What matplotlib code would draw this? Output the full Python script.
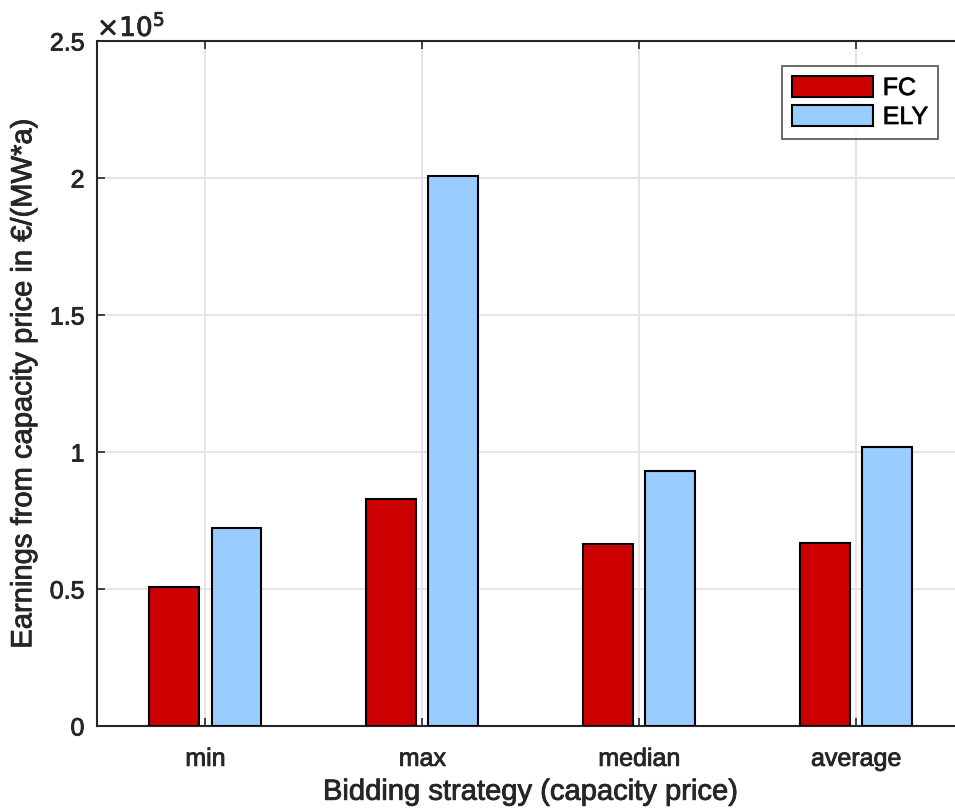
import matplotlib
matplotlib.use("Agg")
import matplotlib.pyplot as plt
import matplotlib.patheffects as pe
import numpy as np

categories = ["min", "max", "median", "average"]
fc_values = [0.507e5, 0.828e5, 0.664e5, 0.668e5]
ely_values = [0.723e5, 2.007e5, 0.931e5, 1.018e5]
y_ticks = [0, 0.5e5, 1e5, 1.5e5, 2e5, 2.5e5]
y_tick_labels = ["0", "0.5", "1", "1.5", "2", "2.5"]

plt.rcParams['font.family'] = ['Liberation Sans', 'DejaVu Sans']
TXT = '#262626'
heavy = [pe.withStroke(linewidth=0.6, foreground=TXT)]

W, H = 955, 811
fig = plt.figure(figsize=(W / 100, H / 100), dpi=100)
left, right, top, bottom = 97, 964.5, 41, 726
ax = fig.add_axes([left / W, 1 - bottom / H, (right - left) / W, (bottom - top) / H])

x = np.arange(1, len(categories) + 1)
bw = 0.23
off = 0.143
ax.bar(x - off, fc_values, bw, color='#cc0000', edgecolor='black', linewidth=1.5, label='FC', zorder=3)
ax.bar(x + off, ely_values, bw, color='#99ccff', edgecolor='black', linewidth=1.5, label='ELY', zorder=3)

ax.set_xlim(0.5, 4.5)
ax.set_ylim(0, 2.5e5)
ax.set_xticks(x)
ax.set_xticklabels(categories, fontsize=18, color=TXT)
ax.set_yticks(y_ticks)
ax.set_yticklabels(y_tick_labels, fontsize=18, color=TXT)
ax.tick_params(direction='in', length=6, width=1.2, color=TXT, top=True, right=True)
ax.tick_params(axis='x', pad=15)
ax.tick_params(axis='y', pad=9)
ax.grid(True, color='#e3e3e3', linewidth=1.3, zorder=0)
ax.set_axisbelow(True)
for s in ax.spines.values():
    s.set_color(TXT)
    s.set_linewidth(1.5)

off_txt = ax.text(0.0, 1.0, r'$\times10^5$', transform=ax.transAxes, fontsize=19,
                  ha='left', va='bottom', color=TXT)

ax.set_xlabel('Bidding strategy (capacity price)', fontsize=21, color=TXT, labelpad=5)
ax.set_ylabel('Earnings from capacity price in €/(MW*a)', fontsize=21, color=TXT, labelpad=9)

leg = ax.legend(loc='upper right', bbox_to_anchor=((938 - left) / (right - left), 1 - (66 - top) / (bottom - top)),
                prop={'size': 18}, fancybox=False, edgecolor=TXT,
                handlelength=3.25, handleheight=0.9, borderpad=0.4, labelspacing=0.2, handletextpad=0.4,
                borderaxespad=0)
leg.get_frame().set_linewidth(1.2)

texts = (ax.get_xticklabels() + ax.get_yticklabels() + [ax.xaxis.label, ax.yaxis.label, off_txt]
         + leg.get_texts())
for t in texts:
    t.set_path_effects(heavy)

fig.savefig('out.png', dpi=100)
